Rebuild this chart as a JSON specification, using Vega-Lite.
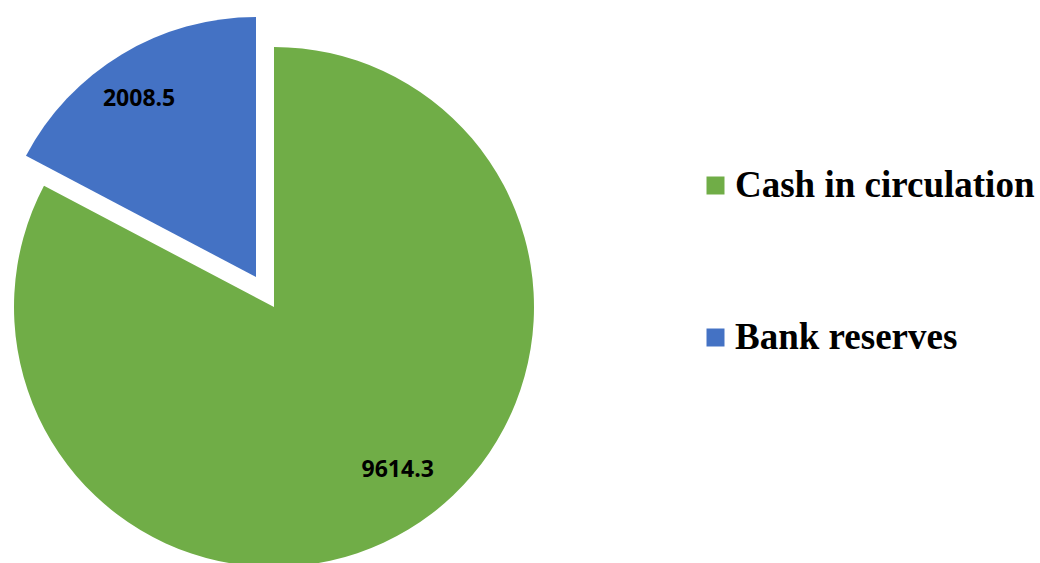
{
  "$schema": "https://vega.github.io/schema/vega-lite/v6.json",
  "width": 548,
  "height": 614,
  "padding": 0,
  "background": "white",
  "config": {"view": {"stroke": null}},
  "data": {"values": [
    {"category": "Cash in circulation", "value": 9614.3},
    {"category": "Bank reserves", "value": 2008.5}
  ]},
  "layer": [
    {
      "transform": [
        {"stack": "value", "groupby": [], "sort": [{"field": "category", "order": "descending"}], "as": ["v0", "v1"]},
        {"filter": "datum.category === 'Cash in circulation'"}
      ],
      "mark": {"type": "arc", "radius": 260},
      "encoding": {
        "theta": {"field": "v0", "type": "quantitative", "scale": {"domain": [0, 11622.8]}},
        "theta2": {"field": "v1"},
        "color": {"field": "category", "type": "nominal",
          "scale": {"domain": ["Cash in circulation", "Bank reserves"], "range": ["#70AD47", "#4472C4"]},
          "legend": {"title": null, "orient": "none", "legendX": 697, "legendY": 167, "padding": 0,
            "symbolType": "square", "symbolSize": 324, "symbolStrokeWidth": 0,
            "labelFont": "Liberation Serif", "labelFontWeight": "bold", "labelFontSize": 37,
            "labelColor": "black", "labelOffset": 1, "rowPadding": 114, "labelLimit": 500}}
      }
    },
    {
      "transform": [
        {"stack": "value", "groupby": [], "sort": [{"field": "category", "order": "descending"}], "as": ["v0", "v1"]},
        {"filter": "datum.category === 'Bank reserves'"}
      ],
      "mark": {"type": "arc", "radius": 260, "xOffset": -18, "yOffset": -30},
      "encoding": {
        "theta": {"field": "v0", "type": "quantitative"},
        "theta2": {"field": "v1"},
        "color": {"field": "category", "type": "nominal"}
      }
    },
    {
      "mark": {"type": "text", "radius": 205, "thetaOffset": -0.105, "font": "Open Sans", "fontWeight": "bold", "fontSize": 23, "color": "black"},
      "encoding": {
        "theta": {"field": "value", "type": "quantitative", "stack": true},
        "order": {"field": "category", "sort": "descending"},
        "text": {"condition": {"test": "datum.category === 'Cash in circulation'", "field": "value", "type": "quantitative", "format": ".1f"}, "value": ""}
      }
    },
    {
      "mark": {"type": "text", "radius": 213, "thetaOffset": -0.038, "xOffset": -18, "yOffset": -30, "font": "Open Sans", "fontWeight": "bold", "fontSize": 23, "color": "black"},
      "encoding": {
        "theta": {"field": "value", "type": "quantitative", "stack": true},
        "order": {"field": "category", "sort": "descending"},
        "text": {"condition": {"test": "datum.category === 'Bank reserves'", "field": "value", "type": "quantitative", "format": ".1f"}, "value": ""}
      }
    }
  ]
}
